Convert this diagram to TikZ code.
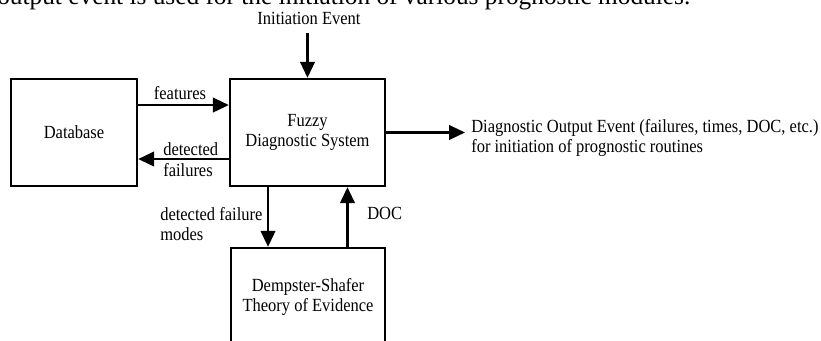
\documentclass[tikz,border=0pt]{standalone}
\usepackage{fontspec}
\setmainfont{Liberation Serif}[FakeStretch=0.89]
\newfontfamily\leadfont{Liberation Serif}
\usetikzlibrary{arrows.meta}

\tikzset{
  blockbox/.style={draw=black, line width=1.8pt, fill=none, inner sep=0pt,
    align=center, font=\fontsize{13.9pt}{15.6pt}\selectfont},
  flow/.style={line width=1.6pt, -{Triangle[length=12pt,width=11pt]}},
  tag/.style={inner sep=0pt, align=left, font=\fontsize{13.9pt}{15.6pt}\selectfont},
}

\begin{document}
\begin{tikzpicture}[x=0.75pt, y=-0.75pt]
  \useasboundingbox (0,0) rectangle (821,341);
  \clip (0,0) rectangle (821,341);
  \fill[white] (0,0) rectangle (821,341);

  % running text line above the figure
  \node[anchor=base west, inner sep=0pt, font=\leadfont\fontsize{19pt}{22pt}\selectfont]
    (lead) at (-3,5) {output event is used for the initiation of various prognostic modules.};

  % blocks
  \node[blockbox, minimum width=94.5pt, minimum height=80.25pt] (db) at (74,132.5) {Database};
  \node[blockbox, minimum width=116.25pt, minimum height=80.25pt] (fz) at (307.5,132.5)
    {Fuzzy\\Diagnostic System};
  \node[blockbox, minimum width=115.5pt, minimum height=73.5pt] (ds) at (308,297)
    {Dempster-Shafer\\Theory of Evidence};

  % external event texts
  \node[tag, anchor=center] (ie) at (309,18) {Initiation Event};
  \node[tag, anchor=west] (out) at (471,138)
    {Diagnostic Output Event (failures, times, DOC, etc.)\\for initiation of prognostic routines};

  % connectors
  \draw[flow] ([yshift=-6.5pt]ie.south -| fz.north) -- (fz.north);
  \draw[flow] (fz.east) -- ([xshift=-4.5pt]fz.east -| out.west);
  \draw[flow] ([yshift=20.6pt]db.east) -- ([yshift=20.6pt]db.east -| fz.west);
  \draw[flow] ([yshift=-19.9pt]fz.west) -- ([yshift=-19.9pt]fz.west -| db.east);
  \draw[flow] ([xshift=-29.6pt]fz.south) -- ([xshift=-29.6pt]fz.south |- ds.north);
  \draw[flow] ([xshift=29.6pt]ds.north) -- ([xshift=29.6pt]ds.north |- fz.south);

  % connector labels
  \node[tag, anchor=center] (lf) at (180,93) {features};
  \node[tag, anchor=west] (ld) at (163,159.5) {detected\\failures};
  \node[tag, anchor=west] (lm) at (160,224) {detected failure\\modes};
  \node[tag, anchor=west] (lc) at (367,213) {DOC};
\end{tikzpicture}
\end{document}
